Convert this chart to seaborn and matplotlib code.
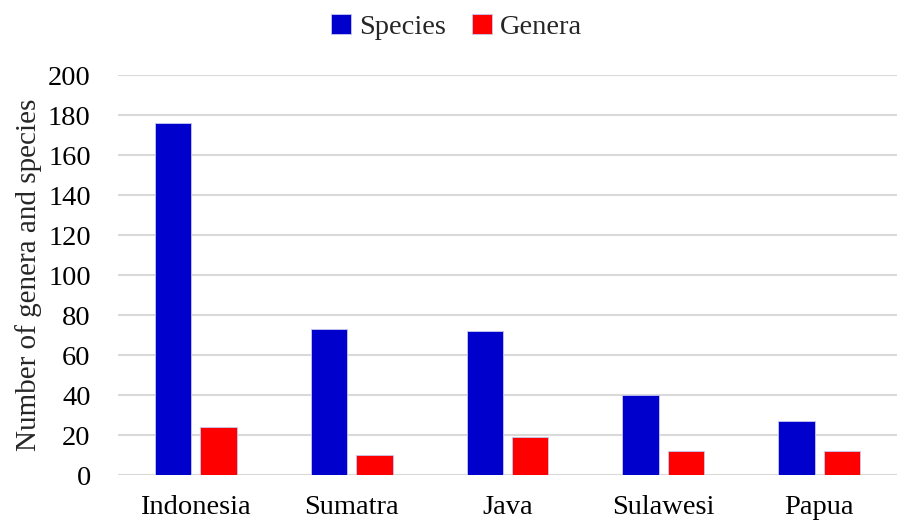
import matplotlib
matplotlib.use("Agg")
import matplotlib.pyplot as plt
import seaborn as sns
import pandas as pd

# Datos
regions = ['Indonesia', 'Sumatra', 'Java', 'Sulawesi', 'Papua']
species = [176, 73, 72, 40, 27]
genera = [24, 10, 19, 12, 12]

df = pd.DataFrame({
    'Region': regions * 2,
    'Count': species + genera,
    'Tipo': ['Species'] * len(regions) + ['Genera'] * len(regions),
})

sns.set_style('white')
plt.rcParams['font.family'] = ['Liberation Serif', 'DejaVu Serif']

fig, ax = plt.subplots(figsize=(8.99, 5.21), dpi=100)
fig.subplots_adjust(left=0.131, right=0.998, top=0.856, bottom=0.088)

sns.barplot(data=df, x='Region', y='Count', hue='Tipo',
            palette={'Species': '#0000CC', 'Genera': '#FF0000'}, saturation=1,
            width=0.58, gap=0.19, edgecolor='#C8C8F0', linewidth=0.6,
            ax=ax, zorder=3)

ax.set_ylim(0, 200)
ax.set_yticks(range(0, 201, 20))
ax.yaxis.grid(True, color='#D9D9D9', linewidth=1.5, zorder=0)
ax.set_axisbelow(True)
for s in ax.spines.values():
    s.set_visible(False)
ax.tick_params(axis='both', length=0, labelsize=20.5, colors='black')
ax.tick_params(axis='y', pad=19.5)
ax.tick_params(axis='x', pad=14)
ax.set_xlabel('')
ax.set_ylabel('Number of genera and species', fontsize=21, labelpad=4)

ax.legend(loc='center', bbox_to_anchor=(0.508, 0.948), bbox_transform=fig.transFigure,
          ncol=2, frameon=False, fontsize=20.5, handlelength=0.7, handleheight=0.7,
          handletextpad=0.3, columnspacing=0.9, title=None)

plt.savefig('out.png', dpi=100)
